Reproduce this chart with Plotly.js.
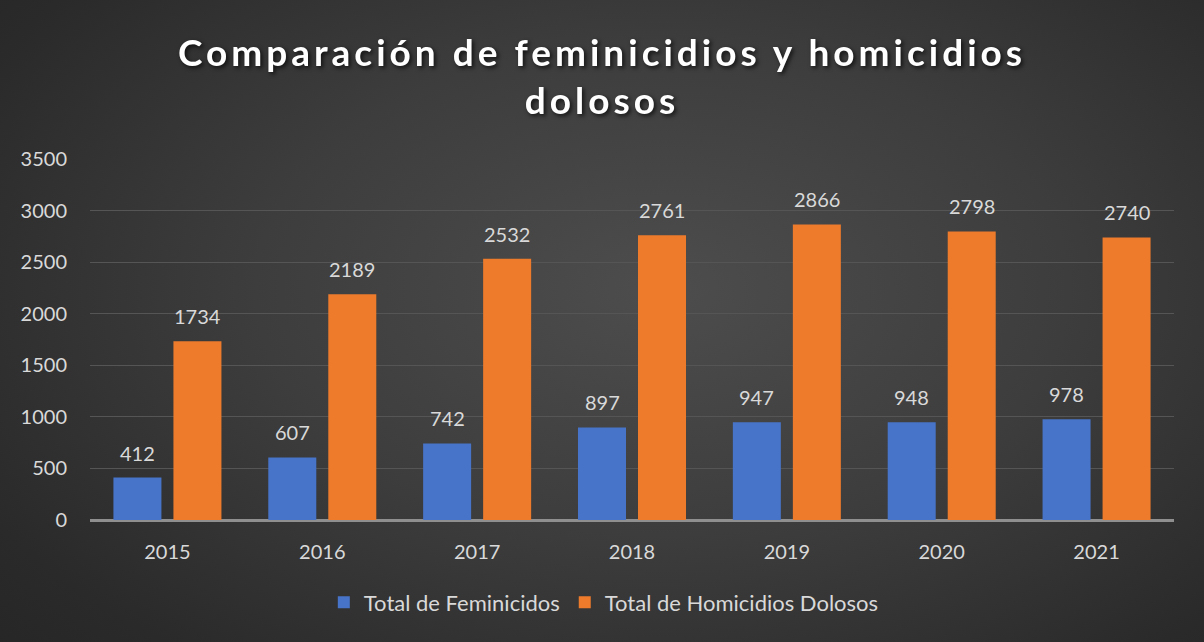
<!DOCTYPE html>
<html>
<head>
<meta charset="utf-8">
<script src="https://cdn.plot.ly/plotly-3.0.1.min.js"></script>
<style>
  html, body { margin: 0; padding: 0; }
  #wrap {
    width: 1204px; height: 642px;
    background: radial-gradient(ellipse 75% 85% at 55% 45%, #4d4d4d 0%, #3d3d3d 45%, #2a2a2a 85%, #262626 100%);
  }
  #chart { width: 1204px; height: 642px; }
  .gtitle { filter: drop-shadow(2px 2px 2px rgba(0,0,0,0.7)); letter-spacing: 4px; }
</style>
</head>
<body>
<div id="wrap"><div id="chart"></div></div>
<script>
const years = ['2015', '2016', '2017', '2018', '2019', '2020', '2021'];
const feminicidios = [412, 607, 742, 897, 947, 948, 978];
const homicidios = [1734, 2189, 2532, 2761, 2866, 2798, 2740];
const yTicks = [0, 500, 1000, 1500, 2000, 2500, 3000, 3500];

const fontFam = 'Lato, "Open Sans", sans-serif';
const labelColor = '#d9d9d9';

const traces = [
  {
    type: 'bar', name: 'Total de Feminicidos', x: years, y: feminicidios,
    marker: { color: '#4774c8' }, hoverinfo: 'x+y'
  },
  {
    type: 'bar', name: 'Total de Homicidios Dolosos', x: years, y: homicidios,
    marker: { color: '#ee7b2c' }, hoverinfo: 'x+y'
  }
];

// value labels placed above each bar through the axis scales (category index)
const annotations = [];
years.forEach((yr, i) => {
  annotations.push({ x: i, y: feminicidios[i], xref: 'x', yref: 'y', text: String(feminicidios[i]),
    showarrow: false, xshift: -30, yshift: 11, yanchor: 'bottom',
    font: { size: 20, color: labelColor, family: fontFam } });
  annotations.push({ x: i, y: homicidios[i], xref: 'x', yref: 'y', text: String(homicidios[i]),
    showarrow: false, xshift: 30, yshift: 11, yanchor: 'bottom',
    font: { size: 20, color: labelColor, family: fontFam } });
});

const layout = {
  width: 1204, height: 642,
  paper_bgcolor: 'rgba(0,0,0,0)', plot_bgcolor: 'rgba(0,0,0,0)',
  margin: { l: 90, r: 30, t: 159, b: 122 },
  font: { family: fontFam, color: labelColor, size: 20 },
  title: {
    text: 'Comparación de feminicidios y homicidios<br>dolosos',
    font: { family: fontFam, size: 37, color: '#ffffff', weight: 'bold' },
    x: 0.5, xanchor: 'center', y: 1 - 66 / 642, yanchor: 'middle'
  },
  barmode: 'group', bargap: 0.225, bargroupgap: 0.2,
  annotations: annotations,
  xaxis: {
    type: 'category', range: [-0.5, years.length - 0.5], autorange: false,
    showgrid: false, zeroline: false, showline: false,
    ticks: 'outside', ticklen: 14, tickcolor: 'rgba(0,0,0,0)',
    tickfont: { size: 20, color: labelColor, family: fontFam }
  },
  yaxis: {
    range: [0, 3500], autorange: false, tickvals: yTicks, ticktext: yTicks.map(String),
    showgrid: true, gridcolor: '#555555', gridwidth: 1,
    zeroline: true, zerolinecolor: '#8f8f8f', zerolinewidth: 3,
    showline: false,
    ticks: 'outside', ticklen: 18, tickcolor: 'rgba(0,0,0,0)',
    tickfont: { size: 20, color: labelColor, family: fontFam }
  },
  legend: {
    orientation: 'h', x: 0.474, xanchor: 'center', y: -0.17, yanchor: 'top',
    font: { size: 22, color: labelColor, family: fontFam },
    itemwidth: 30, tracegroupgap: 0
  },
  showlegend: true
};

Plotly.newPlot('chart', traces, layout, { displayModeBar: false, staticPlot: true });
</script>
</body>
</html>
